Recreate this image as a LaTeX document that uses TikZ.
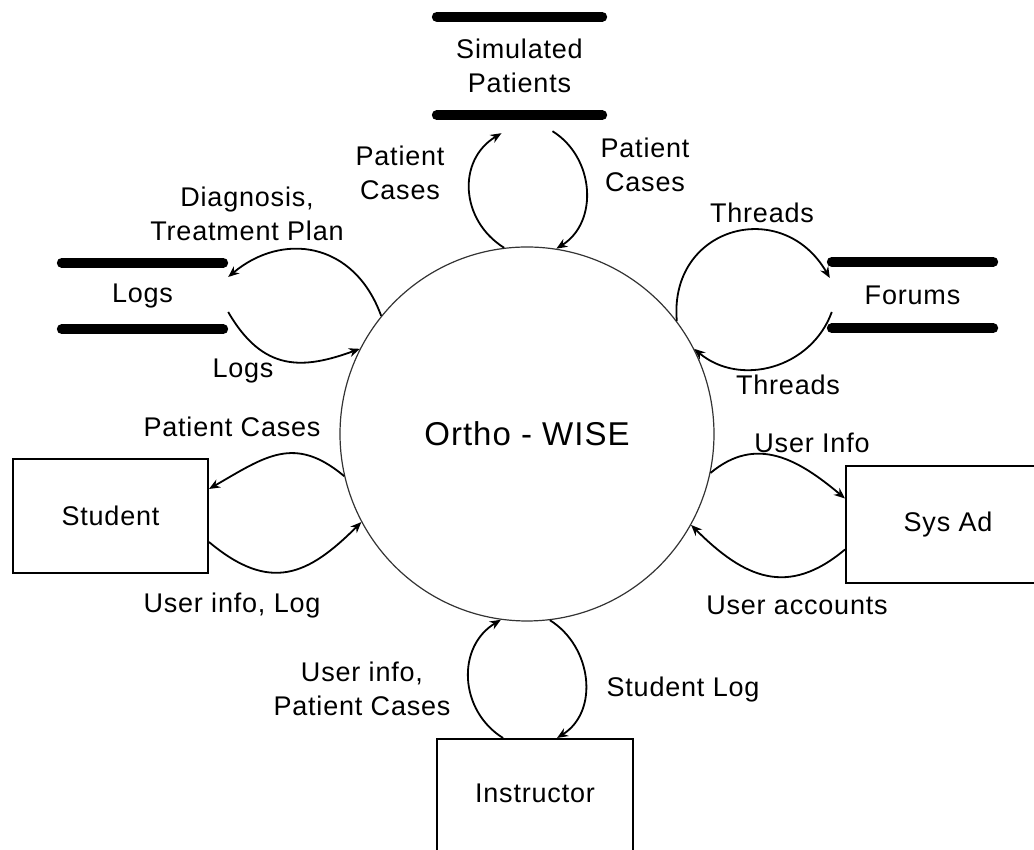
\documentclass[tikz,border=0pt]{standalone}
\usepackage{fontspec}
\setmainfont{Liberation Sans}[LetterSpace=3]
\usepackage{tikz}
\usetikzlibrary{arrows.meta}

\begin{document}
\begin{tikzpicture}[x=1pt,y=1pt,
  flow/.style={-{Stealth[length=11pt,width=9pt]},line width=1.8pt},
  entity/.style={draw,line width=2pt,inner sep=0pt},
  store/.style={inner sep=0pt,align=center},
  bar/.style={line width=10pt,line cap=round,shorten <=5pt,shorten >=5pt},
  lbl/.style={align=center,inner sep=0pt},
  every node/.append style={font=\fontsize{27}{34}\selectfont}]
\useasboundingbox (0,0) rectangle (1034,850);
\clip (0,0) rectangle (1034,850);

% Process
\node[circle,draw=black!80,line width=1.2pt,minimum size=374pt,inner sep=0pt,
  font=\fontsize{33}{40}\selectfont] (ortho) at (527,416) {Ortho - WISE};

% Data stores
\node[store,minimum width=175pt,minimum height=98pt] (sim) at (519.5,784) {Simulated\\Patients};
\node[store,minimum width=171pt,minimum height=66pt] (logs) at (142.5,554) {Logs};
\node[store,minimum width=171pt,minimum height=66pt] (forums) at (912.5,555) {Forums};
\foreach \s in {sim,logs,forums} {
  \draw[bar] (\s.north west) -- (\s.north east);
  \draw[bar] (\s.south west) -- (\s.south east);
}

% External entities
\node[entity,minimum width=195pt,minimum height=114pt] (student) at (110.5,334) {Student};
\node[entity,minimum width=204pt,minimum height=117pt] (sysad) at (948,325.5) {Sys Ad};
\node[entity,minimum width=196pt,minimum height=132pt,anchor=north,
  text height=19pt,text depth=23pt] (instr) at (535,112) {Instructor};

% Flows
\draw[flow] (ortho.97) .. controls +(148:52) and +(211:52) .. ([xshift=-18pt,yshift=-18pt]sim.south);
\draw[flow] ([xshift=33pt,yshift=-16pt]sim.south) .. controls +(-32:50) and +(32:50) .. (ortho.81);
\draw[flow] (ortho.141) .. controls +(110:80) and +(40:70) .. ([yshift=19pt]logs.east);
\draw[flow] ([yshift=-16pt]logs.east) .. controls +(-60:70) and +(200:60) .. (ortho.153);
\draw[flow] (ortho.37) .. controls +(95:95) and +(120:95) .. ([xshift=3pt,yshift=17pt]forums.west);
\draw[flow] ([xshift=5pt,yshift=-17pt]forums.west) .. controls +(-110:60) and +(-40:60) .. (ortho.27);
\draw[flow] (ortho.193) .. controls +(140:65) and +(30:65) .. ([yshift=27pt]student.east);
\draw[flow] ([yshift=-26pt]student.east) .. controls +(-40:80) and +(225:75) .. (ortho.208);
\draw[flow] (ortho.-12) .. controls +(40:60) and +(140:60) .. ([yshift=26pt]sysad.west);
\draw[flow] ([yshift=-25pt]sysad.west) .. controls +(220:75) and +(-45:75) .. (ortho.-29);
\draw[flow] ([xshift=-32pt]instr.north) .. controls +(148:52) and +(211:52) .. (ortho.262);
\draw[flow] (ortho.277) .. controls +(-32:50) and +(32:50) .. ([xshift=22pt]instr.north);

% Flow labels
\node[lbl] (simin) at (400,677) {Patient\\Cases};
\node[lbl] (simout) at (645,685) {Patient\\Cases};
\node[lbl] (logsin) at (247,636) {Diagnosis,\\Treatment Plan};
\node[lbl] (logsout) at (243,479) {Logs};
\node[lbl] (forumsin) at (762,637) {Threads};
\node[lbl] (forumsout) at (788,465) {Threads};
\node[lbl] (studentin) at (232,423) {Patient Cases};
\node[lbl] (studentout) at (232,244) {User info, Log};
\node[lbl] (sysadin) at (812,407) {User Info};
\node[lbl] (sysadout) at (797,245) {User accounts};
\node[lbl] (instrout) at (362,161) {User info,\\Patient Cases};
\node[lbl] (instrin) at (683,160) {Student Log};
\end{tikzpicture}
\end{document}
